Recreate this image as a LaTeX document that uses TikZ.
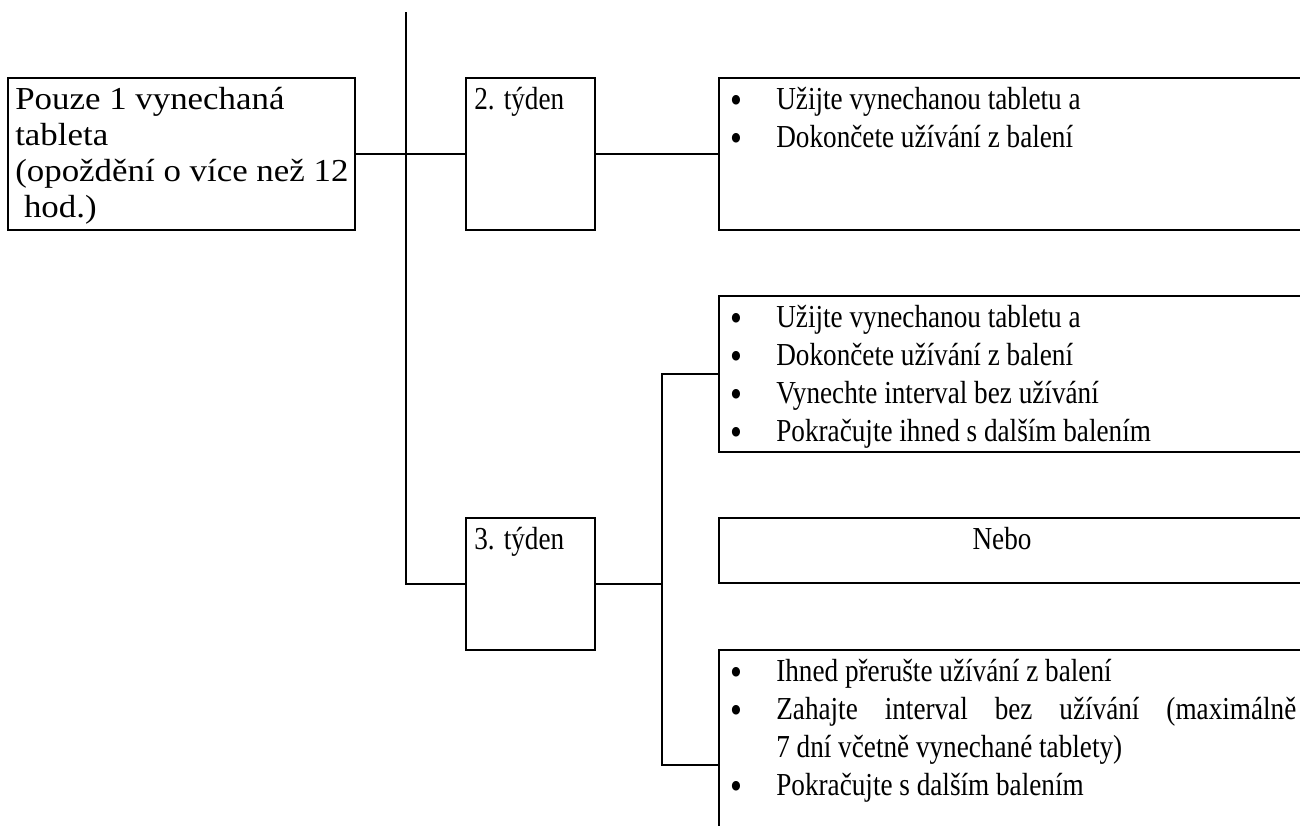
\documentclass[tikz,border=0pt]{standalone}
\usepackage{fontspec}
\setmainfont{Liberation Serif}[FakeStretch=0.85]
\newfontfamily\boxfont{Liberation Serif}[FakeStretch=1.09]
\newcommand{\blt}{\makebox[46pt][l]{\raisebox{-4pt}{\fontsize{40}{38}\selectfont •}}}
\usetikzlibrary{positioning}
\begin{document}
\begin{tikzpicture}[x=1pt, y=-1pt, line width=2.6pt,
    cell/.style={draw, inner sep=0pt, outer sep=0pt, anchor=north west},
    txt/.style={inner sep=0pt, font=\fontsize{32}{38}\selectfont}]
        \useasboundingbox (0,0) rectangle (1300,825);
        \clip (0,0) rectangle (1300,825);

        \node[cell, minimum width=347pt, minimum height=152pt] (missed) at (8,78) {};
        \node[cell, minimum width=129pt, minimum height=152pt] (w2) at (466,78) {};
        \node[cell, minimum width=600pt, minimum height=152pt] (r2) at (719,78) {};

        \node[cell, minimum width=129pt, minimum height=132pt] (w3) at (466,518) {};
        \node[cell, minimum width=600pt, minimum height=156pt] (r3a) at (719,296) {};
        \node[cell, minimum width=600pt, minimum height=65pt] (r3b) at (719,518) {};
        \node[cell, minimum width=600pt, minimum height=230pt] (r3c) at (719,650) {};

        \node[txt, font=\boxfont\fontsize{32}{36}\selectfont, below right=31pt and 6pt of missed.north west, anchor=base west] (missed-txt)
          {\begin{tabular}[t]{@{}l@{}}Pouze 1 vynechaná\\ tableta\\ (opoždění o více než 12\\ \ hod.)\end{tabular}};
        \node[txt, below right=31pt and 7pt of w2.north west, anchor=base west] (w2-txt) {2. týden};
        \node[txt, below right=31pt and 7pt of w3.north west, anchor=base west] (w3-txt) {3. týden};

        \node[txt, below right=31pt and 10pt of r2.north west, anchor=base west] (r2-txt)
          {\begin{tabular}[t]{@{}l@{}}\blt Užijte vynechanou tabletu a\\
            \blt Dokončete užívání z balení\end{tabular}};
        \node[txt, below right=31pt and 10pt of r3a.north west, anchor=base west] (r3a-txt)
          {\begin{tabular}[t]{@{}l@{}}\blt Užijte vynechanou tabletu a\\
            \blt Dokončete užívání z balení\\
            \blt Vynechte interval bez užívání\\
            \blt Pokračujte ihned s dalším balením\end{tabular}};
        \node[txt, below right=31pt and 283pt of r3b.north west, anchor=base] (r3b-txt) {Nebo};
        \node[txt, below right=31pt and 10pt of r3c.north west, anchor=base west] (r3c-txt)
          {\begin{tabular}[t]{@{}l@{}}\blt Ihned přerušte užívání z balení\\
            \blt\makebox[520pt][s]{Zahajte interval bez užívání (maximálně}\\
            \makebox[46pt][l]{}7 dní včetně vynechané tablety)\\
            \blt Pokračujte s dalším balením\end{tabular}};

        \coordinate (top) at (406,12);
        \coordinate (split) at (662,584);

        \draw (missed.east) -- (w2.west);
        \draw (w2.east) -- (r2.west);
        \draw (top) |- (w3.west);
        \draw (w3.east) -- (split);
        \draw (r3a.west) -| (split) |- (r3c.west);
      \end{tikzpicture}
\end{document}
